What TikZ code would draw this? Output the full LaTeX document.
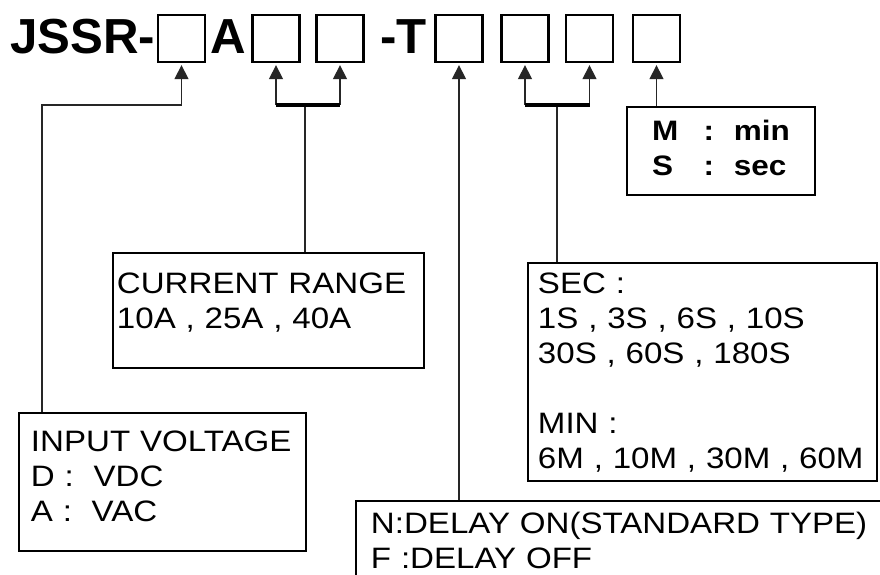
\documentclass[tikz,border=0pt]{standalone}
\usepackage{fontspec}
\setmainfont{Liberation Sans}
\newfontfamily\widefont[FakeStretch=1.12]{Liberation Sans}
\usetikzlibrary{arrows.meta}

\begin{document}
\begin{tikzpicture}[
        x=0.025cm, y=-0.025cm,
        title/.style={anchor=base west, inner sep=0pt, font=\fontsize{35}{40}\selectfont\bfseries},
        slot/.style={rectangle, draw, line width=1.5pt, minimum size=1.175cm, inner sep=0pt},
        info/.style={rectangle, draw, line width=1.4pt, anchor=north west, align=left, inner ysep=0pt, font=\widefont\fontsize{21}{25}\selectfont},
        unitbox/.style={rectangle, draw, line width=1.4pt, minimum width=4.7cm, minimum height=2.2cm, font=\widefont\bfseries\fontsize{20}{25}\selectfont},
        link/.style={line width=1.1pt, draw=black!85},
        bar/.style={line width=3pt},
        arr/.style={link, -{Triangle[length=10pt, width=10pt]}, shorten >=1.5pt}
    ]
        \clip (0,0) rectangle (880,574);
        \fill[white] (0,0) rectangle (880,574);

        % Part number
        \node[title] (jssr) at (10,53) {JSSR-};
        \node[title] (amp) at (210,53) {A};
        \node[title] (tmr) at (380,53) {-T};
        \node[slot] (s1) at (181.5,38.5) {};
        \node[slot] (s2) at (276,38.5) {};
        \node[slot] (s3) at (340,38.5) {};
        \node[slot] (s4) at (459,38.5) {};
        \node[slot] (s5) at (525,38.5) {};
        \node[slot] (s6) at (589.5,38.5) {};
        \node[slot] (s7) at (656.5,38.5) {};

        % Option boxes
        \node[info, inner xsep=0.3cm, text width=6.575cm, text height=0.9625cm, text depth=2.4875cm] (volt) at (18,412) {INPUT VOLTAGE\\D :~~VDC\\A :~~VAC};
        \node[info, inner xsep=0.1cm, text width=7.575cm, text height=1.0cm, text depth=1.875cm] (cur) at (112,252) {CURRENT RANGE\\10A , 25A , 40A};
        \node[info, inner xsep=0.25cm, text width=8.225cm, text height=0.75cm, text depth=4.7cm] (time) at (527,262) {SEC :\\1S , 3S , 6S , 10S\\30S , 60S , 180S\\[25pt]MIN :\\6M , 10M , 30M , 60M};
        \node[info, inner xsep=0.375cm, text width=22cm, text height=0.8cm, text depth=3cm] (mode) at (355,500) {N:DELAY ON(STANDARD TYPE)\\F :DELAY OFF};
        \node[unitbox] (unit) at (721,151) {\begin{tabular}{@{}l@{\hspace{18pt}}l@{\hspace{14pt}}l@{}}M & : & min\\S & : & sec\end{tabular}};

        % Arrows
        \coordinate (k1) at (42,105);
        \draw[arr] (volt.north -| k1) -- (k1) -| (s1.south);

        \coordinate (k2) at (305,105);
        \draw[link] (cur.north -| k2) -- (k2);
        \draw[arr] (s2.south |- k2) -- (s2.south);
        \draw[arr] (s3.south |- k2) -- (s3.south);
        \draw[bar] (s2.south |- k2) -- (s3.south |- k2);

        \draw[arr] (mode.north -| s4.south) -- (s4.south);

        \coordinate (k3) at (557,105);
        \draw[link] (time.north -| k3) -- (k3);
        \draw[arr] (s5.south |- k3) -- (s5.south);
        \draw[arr] (s6.south |- k3) -- (s6.south);
        \draw[bar] (s5.south |- k3) -- (s6.south |- k3);

        \draw[arr] (unit.north -| s7.south) -- (s7.south);
    \end{tikzpicture}
\end{document}
